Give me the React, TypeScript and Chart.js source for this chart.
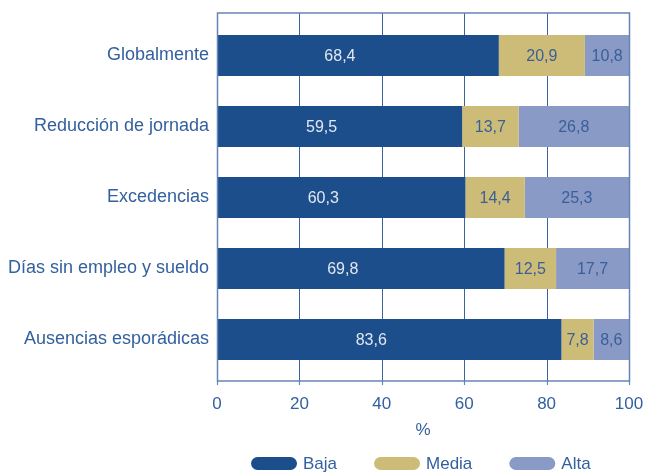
import React, { useEffect, useRef } from 'react';
import { Chart, registerables } from 'chart.js';

Chart.register(...registerables);

const categories = [
  'Globalmente',
  'Reducción de jornada',
  'Excedencias',
  'Días sin empleo y sueldo',
  'Ausencias esporádicas',
];
const seriesNames = ['Baja', 'Media', 'Alta'];
const baja = [68.4, 59.5, 60.3, 69.8, 83.6];
const media = [20.9, 13.7, 14.4, 12.5, 7.8];
const alta = [10.8, 26.8, 25.3, 17.7, 8.6];
const xTicks = [0, 20, 40, 60, 80, 100];
const xTitle = '%';

const FONT = "'Liberation Sans', Arial, Helvetica, sans-serif";
const TEXT = '#34609e';
const COLORS = ['#1c4e8c', '#cdbb78', '#8a9ac6'];
const LABEL_COLORS = ['#e2e7f0', '#3a5f98', '#3a5f98'];
const GRID = '#3b63a0';
const FRAME = '#6584b8';

const fmt = (v: number) => v.toFixed(1).replace('.', ',');

const decorPlugin = {
  id: 'decor',
  beforeDatasetsDraw(chart: any) {
    const { ctx, chartArea, scales } = chart;
    const x = scales.x;
    const top = chartArea.top - 7;
    const bottom = chartArea.bottom + 6;
    ctx.save();
    ctx.strokeStyle = GRID;
    ctx.lineWidth = 1;
    xTicks.forEach((v) => {
      const px = Math.round(x.getPixelForValue(v)) + 0.5;
      ctx.beginPath();
      ctx.moveTo(px, top);
      ctx.lineTo(px, bottom);
      ctx.stroke();
    });
    ctx.restore();
  },
  afterDatasetsDraw(chart: any) {
    const { ctx, chartArea, scales } = chart;
    const x = scales.x;
    ctx.save();
    ctx.font = `16px ${FONT}`;
    ctx.textAlign = 'center';
    ctx.textBaseline = 'middle';
    chart.data.datasets.forEach((ds: any, di: number) => {
      const meta = chart.getDatasetMeta(di);
      meta.data.forEach((el: any, i: number) => {
        const c = el.getCenterPoint();
        ctx.fillStyle = LABEL_COLORS[di];
        const dx = di === 0 ? -18 : 0;
        ctx.fillText(fmt(ds.data[i]), c.x + dx, c.y + 1);
      });
    });
    ctx.restore();

    const top = chartArea.top - 7;
    const bottom = chartArea.bottom + 6;
    const left = Math.round(x.getPixelForValue(0)) + 0.5;
    const right = Math.round(x.getPixelForValue(100)) + 0.5;
    ctx.save();
    ctx.strokeStyle = FRAME;
    ctx.lineWidth = 1.5;
    ctx.strokeRect(left, top, right - left, bottom - top);
    ctx.lineWidth = 1.2;
    xTicks.forEach((v) => {
      const px = Math.round(x.getPixelForValue(v)) + 0.5;
      ctx.beginPath();
      ctx.moveTo(px, bottom);
      ctx.lineTo(px, bottom + 4);
      ctx.stroke();
    });
    ctx.restore();
  },
  afterDraw(chart: any) {
    const { ctx } = chart;
    const cy = 463.5;
    let xPos = 251;
    ctx.save();
    ctx.font = `17px ${FONT}`;
    ctx.textBaseline = 'middle';
    ctx.textAlign = 'left';
    seriesNames.forEach((name, i) => {
      const w = 46;
      const h = 13;
      const r = h / 2;
      ctx.fillStyle = COLORS[i];
      ctx.beginPath();
      ctx.moveTo(xPos + r, cy - r);
      ctx.lineTo(xPos + w - r, cy - r);
      ctx.arc(xPos + w - r, cy, r, -Math.PI / 2, Math.PI / 2);
      ctx.lineTo(xPos + r, cy + r);
      ctx.arc(xPos + r, cy, r, Math.PI / 2, (3 * Math.PI) / 2);
      ctx.closePath();
      ctx.fill();
      ctx.fillStyle = TEXT;
      const tx = xPos + w + 6;
      ctx.fillText(name, tx, cy + 0.5);
      xPos = tx + ctx.measureText(name).width + 37;
    });
    ctx.restore();
  },
};

export default function App() {
  const canvasRef = useRef<HTMLCanvasElement | null>(null);

  useEffect(() => {
    const canvas = canvasRef.current;
    if (!canvas) return;
    const chart = new Chart(canvas, {
      type: 'bar',
      data: {
        labels: categories,
        datasets: [
          { label: seriesNames[0], data: baja, backgroundColor: COLORS[0] },
          { label: seriesNames[1], data: media, backgroundColor: COLORS[1] },
          { label: seriesNames[2], data: alta, backgroundColor: COLORS[2] },
        ],
      },
      options: {
        indexAxis: 'y',
        responsive: false,
        maintainAspectRatio: false,
        animation: false,
        devicePixelRatio: 1,
        datasets: {
          bar: { barPercentage: 0.58, categoryPercentage: 1 },
        },
        layout: { padding: { top: 20, right: 18, left: 0, bottom: 0 } },
        plugins: {
          legend: { display: false },
          tooltip: { enabled: false },
        },
        scales: {
          x: {
            type: 'linear',
            stacked: true,
            min: 0,
            max: 100,
            afterBuildTicks: (scale: any) => {
              scale.ticks = xTicks.map((v) => ({ value: v }));
            },
            afterFit: (scale: any) => {
              scale.height = 97;
              scale.paddingLeft = 0;
              scale.paddingRight = 0;
            },
            grid: { display: false, drawTicks: false },
            border: { display: false },
            ticks: {
              color: TEXT,
              font: { family: FONT, size: 17 },
              padding: 19,
              maxRotation: 0,
            },
            title: {
              display: true,
              text: xTitle,
              color: TEXT,
              font: { family: FONT, size: 17 },
              padding: { top: 0, bottom: 31 },
            },
          },
          y: {
            type: 'category',
            stacked: true,
            afterFit: (scale: any) => {
              scale.width = 217;
            },
            grid: { display: false, drawTicks: false },
            border: { display: false },
            ticks: {
              color: TEXT,
              font: { family: FONT, size: 18 },
              padding: 8,
            },
          },
        },
      },
      plugins: [decorPlugin],
    });
    return () => chart.destroy();
  }, []);

  return (
    <div style={{ position: 'absolute', left: 0, top: 0, width: 647, height: 472 }}>
      <canvas ref={canvasRef} width={647} height={472} style={{ display: 'block' }} />
    </div>
  );
}
